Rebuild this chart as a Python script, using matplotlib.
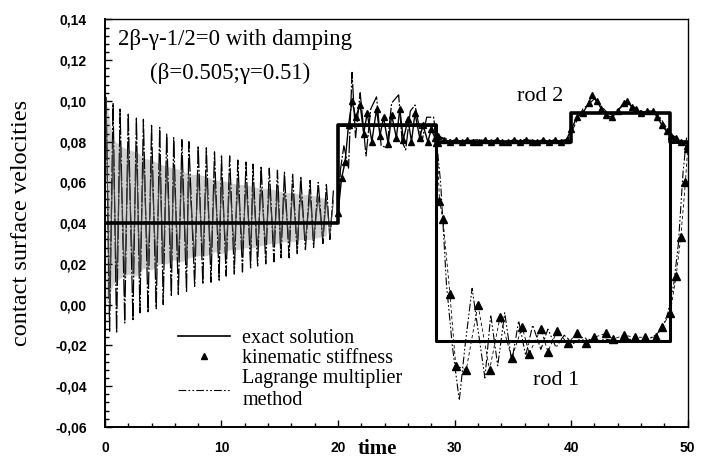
import matplotlib.pyplot as plt
from matplotlib.lines import Line2D
from matplotlib.ticker import MultipleLocator, FuncFormatter

# exact solution, step levels (steps-post)
exact_rod2_t = [0, 20, 28.4, 40, 48.5, 50]
exact_rod2_v = [0.040, 0.088, 0.080, 0.094, 0.080, 0.080]
exact_rod1_t = [20, 28.4, 48.5, 50]
exact_rod1_v = [0.088, -0.018, 0.080, 0.080]

lag_top_t = [0.1, 0.7, 1.3, 2.0, 2.7, 3.3, 4.0, 4.7, 5.3, 5.9, 6.6, 7.2, 8.0, 8.7, 9.4,
             10.0, 10.7, 11.4, 12.1, 12.7, 13.4, 14.1, 14.8, 15.4, 16.1, 16.8, 17.6, 18.3, 19.0, 19.6]
lag_top_v = [0.102, 0.099, 0.096, 0.094, 0.092, 0.091, 0.088, 0.087, 0.084, 0.082, 0.081, 0.080,
             0.078, 0.077, 0.075, 0.073, 0.073, 0.071, 0.070, 0.069, 0.068, 0.067, 0.066, 0.065,
             0.064, 0.063, 0.061, 0.060, 0.059, 0.056]
lag_bot_t = [0.4, 1.0, 1.7, 2.4, 3.0, 3.7, 4.4, 5.0, 5.7, 6.3, 7.0, 7.7, 8.4, 9.1, 9.8,
             10.4, 11.1, 11.8, 12.5, 13.1, 13.8, 14.5, 15.1, 15.8, 16.5, 17.2, 17.9, 18.7, 19.3]
lag_bot_v = [-0.013, -0.014, -0.009, -0.008, -0.004, -0.004, -0.002, 0.000, 0.004, 0.005, 0.006,
             0.009, 0.010, 0.011, 0.012, 0.014, 0.015, 0.016, 0.018, 0.019, 0.020, 0.021, 0.023,
             0.023, 0.025, 0.027, 0.028, 0.030, 0.032]

# kinematic stiffness, 0..20: smaller oscillation round 0.04
kin_top_v = [0.100, 0.081, 0.078, 0.076, 0.075, 0.072, 0.071, 0.069, 0.068, 0.067, 0.066, 0.064,
             0.064, 0.063, 0.061, 0.061, 0.060, 0.059, 0.059, 0.058, 0.057, 0.057, 0.056, 0.055,
             0.055, 0.054, 0.054, 0.053, 0.052, 0.051]
kin_bot_v = [0.000, 0.010, 0.013, 0.015, 0.014, 0.018, 0.017, 0.020, 0.020, 0.022, 0.021, 0.023,
             0.024, 0.024, 0.026, 0.025, 0.027, 0.027, 0.028, 0.028, 0.029, 0.030, 0.030, 0.031,
             0.031, 0.032, 0.032, 0.033, 0.034]

# 20..28.4 both rods together
kin_mid_t = [20.0, 20.3, 20.6, 20.9, 21.2, 21.5, 21.9, 22.2, 22.5, 22.9, 23.3, 23.6, 23.9,
             24.3, 24.6, 25.0, 25.3, 25.6, 26.0, 26.3, 26.6, 27.0, 27.3, 27.7, 28.0, 28.3]
kin_mid_v = [0.045, 0.062, 0.070, 0.088, 0.100, 0.092, 0.098, 0.084, 0.094, 0.080, 0.096, 0.083,
             0.092, 0.079, 0.093, 0.082, 0.096, 0.081, 0.091, 0.080, 0.094, 0.082, 0.088, 0.080,
             0.086, 0.082]
lag_mid_t = [20.0, 20.2, 20.5, 20.9, 21.2, 21.5, 21.9, 22.4, 22.8, 23.3, 23.7, 24.2, 24.6,
             25.2, 25.5, 25.8, 26.2, 26.6, 27.2, 27.6, 28.2, 28.4]
lag_mid_v = [0.040, 0.066, 0.078, 0.067, 0.114, 0.082, 0.104, 0.073, 0.096, 0.102, 0.078, 0.077,
             0.099, 0.103, 0.080, 0.076, 0.095, 0.098, 0.080, 0.092, 0.092, 0.083]

# rod 2 after separation
kin_rod2_t = [28.6, 29.1, 29.6, 30.1, 30.6, 31.1, 31.6, 32.1, 32.6, 33.1, 33.6, 34.1, 34.6,
              35.1, 35.6, 36.1, 36.6, 37.1, 37.6, 38.1, 38.6, 39.1, 39.6, 40.0, 40.5, 41.0,
              41.5, 41.8, 42.2, 42.6, 43.0, 43.5, 44.0, 44.5, 44.8, 45.2, 45.6, 46.0, 46.5,
              47.0, 47.4, 47.8, 48.2, 48.6, 49.0, 49.4, 49.9]
kin_rod2_v = [0.083, 0.081, 0.080, 0.081, 0.080, 0.081, 0.080, 0.080, 0.081, 0.080, 0.081, 0.080,
              0.080, 0.081, 0.080, 0.081, 0.080, 0.080, 0.081, 0.080, 0.081, 0.080, 0.081, 0.086,
              0.092, 0.094, 0.099, 0.103, 0.100, 0.096, 0.093, 0.092, 0.095, 0.099, 0.100, 0.097,
              0.096, 0.094, 0.095, 0.095, 0.092, 0.088, 0.085, 0.083, 0.082, 0.080, 0.078]
lag_rod2_t = [28.4, 30.0, 32.0, 34.0, 36.0, 38.0, 39.7, 40.3, 41.0, 42.0, 43.3, 44.8, 46.0,
              47.5, 48.5, 49.5, 49.9]
lag_rod2_v = [0.083, 0.080, 0.081, 0.080, 0.081, 0.080, 0.081, 0.088, 0.096, 0.101, 0.093,
              0.099, 0.095, 0.093, 0.084, 0.080, 0.078]

# rod 1 after separation
kin_rod1_t = [28.5, 28.7, 29.0, 29.6, 30.1, 31.0, 32.0, 33.0, 33.9, 34.9, 35.8, 36.4, 37.4,
              38.0, 38.8, 39.7, 40.5, 41.3, 42.0, 43.0, 43.6, 44.5, 45.5, 46.3, 47.3, 47.8,
              48.5, 49.0, 49.4, 49.8, 50.0]
kin_rod1_v = [0.080, 0.051, 0.042, 0.005, -0.030, -0.032, 0.000, -0.032, -0.006, -0.026, -0.011,
              -0.024, -0.012, -0.023, -0.013, -0.019, -0.014, -0.019, -0.016, -0.014, -0.017,
              -0.015, -0.016, -0.016, -0.016, -0.011, -0.004, 0.014, 0.033, 0.060, 0.077]
lag_rod1_t = [28.4, 28.8, 29.3, 29.8, 30.4, 30.9, 31.5, 32.0, 32.6, 33.1, 33.7, 34.3, 34.9,
              35.5, 36.1, 36.7, 37.4, 38.0, 38.7, 39.4, 40.2, 41.0, 42.0, 43.0, 44.0, 45.0,
              46.0, 47.0, 47.8, 48.3, 48.8, 49.2, 49.6, 49.9]
lag_rod1_v = [0.083, 0.060, 0.010, -0.020, -0.047, -0.020, 0.008, -0.012, -0.036, -0.005, -0.030,
              -0.004, -0.028, -0.008, -0.025, -0.010, -0.022, -0.012, -0.021, -0.015, -0.019,
              -0.016, -0.018, -0.017, -0.018, -0.017, -0.018, -0.016, -0.012, -0.004, 0.010,
              0.030, 0.065, 0.082]

yticks = [-0.06, -0.04, -0.02, 0.00, 0.02, 0.04, 0.06, 0.08, 0.10, 0.12, 0.14]
xticks = [0, 10, 20, 30, 40, 50]


def zigzag(t_hi, v_hi, t_lo, v_lo):
    # interleave read tops and bottoms into one path
    ts, vs = [], []
    for i in range(len(t_hi)):
        ts.append(t_hi[i]); vs.append(v_hi[i])
        if i < len(t_lo):
            ts.append(t_lo[i]); vs.append(v_lo[i])
    return ts, vs


fig = plt.figure(figsize=(7.09, 4.63), dpi=100)
ax = fig.add_axes([0.148, 0.078, 0.822, 0.880])

lag_dash = (0, (7, 2, 1.5, 2, 1.5, 2))
spike_dash = (0, (14, 1.5, 1.5, 1.5))

# grey smear of the fast oscillation (scan fuzz)
ax.fill_between(lag_top_t[:-1], kin_top_v[:-1], kin_bot_v, color="0.82", lw=0)

# Lagrange multiplier method
lt, lv = zigzag(lag_top_t, lag_top_v, lag_bot_t, lag_bot_v)
ax.plot(lt, lv, color="black", lw=0.9, ls=spike_dash)
ax.plot(lag_mid_t, lag_mid_v, color="black", lw=0.9, ls=spike_dash)
ax.plot(lag_rod2_t, lag_rod2_v, color="black", lw=0.8, ls=lag_dash)
ax.plot(lag_rod1_t, lag_rod1_v, color="black", lw=0.8, ls=lag_dash)

# kinematic stiffness
kt, kv = zigzag(lag_top_t, kin_top_v, lag_bot_t, kin_bot_v)
ax.plot(kt, kv, color="0.25", lw=0.7)
ax.plot(kin_mid_t, kin_mid_v, color="black", lw=1.0, marker="^", ms=5)
ax.plot(kin_rod2_t, kin_rod2_v, color="black", lw=1.0, marker="^", ms=4.5)
ax.plot(kin_rod1_t, kin_rod1_v, color="black", lw=0.6, ls=(0, (4, 3)), marker="^", ms=6)

# exact solution
ax.plot(exact_rod2_t, exact_rod2_v, color="black", lw=2.6, drawstyle="steps-post")
ax.plot(exact_rod1_t, exact_rod1_v, color="black", lw=2.2, drawstyle="steps-post")

ax.set_xlim(0, 50)
ax.set_ylim(-0.06, 0.14)
ax.set_xticks(xticks)
ax.set_yticks(yticks)
ax.xaxis.set_minor_locator(MultipleLocator(2))
ax.yaxis.set_minor_locator(MultipleLocator(0.004))
ax.yaxis.set_major_formatter(FuncFormatter(lambda v, p: f"{v:.2f}".replace(".", ",")))
ax.tick_params(which="both", direction="in", labelsize=10, width=1)
ax.tick_params(which="major", length=5)
ax.tick_params(which="minor", length=3)
ax.tick_params(axis="y", which="major", pad=13)
ax.tick_params(axis="x", which="major", pad=10)
for lab in ax.get_xticklabels() + ax.get_yticklabels():
    lab.set_fontweight("bold")
    lab.set_family("Liberation Sans")
for s in ["left", "bottom"]:
    ax.spines[s].set_linewidth(1.4)
for s in ["top", "right"]:
    ax.spines[s].set_linewidth(1.0)

serif = "Liberation Serif"
ax.set_ylabel("contact surface velocities", family=serif, fontsize=17.5)
ax.yaxis.set_label_coords(-0.125, 0.5)
ax.set_xlabel("time", family=serif, fontsize=15, fontweight="bold")
ax.xaxis.set_label_coords(0.468, -0.03)

ax.text(1.1, 0.130, "2β-γ-1/2=0 with damping", family=serif, fontsize=16.5, va="center")
ax.text(10.7, 0.1137, "(β=0.505;γ=0.51)", family=serif, fontsize=16.5,
        va="center", ha="center")
ax.text(37.3, 0.102, "rod 2", family=serif, fontsize=16, ha="center", va="center")
ax.text(38.7, -0.037, "rod 1", family=serif, fontsize=16, ha="center", va="center")

handles = [Line2D([], [], color="black", lw=1.2),
           Line2D([], [], color="black", lw=0, marker="^", ms=5),
           Line2D([], [], color="black", lw=0.8, ls=lag_dash)]
labels = ["exact solution", "kinematic stiffness", "Lagrange multiplier\nmethod"]
ax.legend(handles, labels, loc="upper left", bbox_to_anchor=(0.125, 0.24), frameon=False,
          prop={"family": serif, "size": 14.5}, handlelength=2.6, labelspacing=0.05,
          handletextpad=0.6, borderaxespad=0, borderpad=0)

fig.savefig("out.png", dpi=100)
